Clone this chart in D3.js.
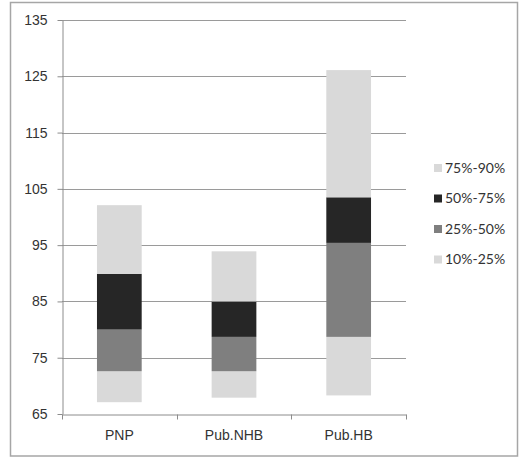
<!DOCTYPE html>
<html>
<head>
<meta charset="utf-8">
<script src="https://cdnjs.cloudflare.com/ajax/libs/d3/7.8.5/d3.min.js"></script>
<style>
  body { margin: 0; background: #fff; }
  svg { display: block; font-family: Lato, "Open Sans", sans-serif; }
</style>
</head>
<body>
<svg id="chart" width="519" height="459"></svg>
<script>
const categories = ["PNP", "Pub.NHB", "Pub.HB"];
const seriesNames = ["10%-25%", "25%-50%", "50%-75%", "75%-90%"];
// boundaries: p10, p25, p50, p75, p90 for each category
const p10 = [67.1, 67.9, 68.3];
const p25 = [72.6, 72.6, 78.7];
const p50 = [80.0, 78.7, 95.4];
const p75 = [89.9, 85.0, 103.5];
const p90 = [102.1, 93.9, 126.1];
const yTicks = [65, 75, 85, 95, 105, 115, 125, 135];
const colors = ["#d9d9d9", "#7f7f7f", "#262626", "#d9d9d9"];

const svg = d3.select("#chart");
const margin = { top: 20, left: 62, right: 113, bottom: 45 };
const innerW = 406 - margin.left;
const innerH = 414 - margin.top;

// outer frame
svg.append("rect")
    .attr("x", 10.5).attr("y", 2.5)
    .attr("width", 507).attr("height", 453.5)
    .attr("fill", "none")
    .attr("stroke", "#a6a6a6")
    .attr("stroke-width", 1.5);

const g = svg.append("g").attr("transform", `translate(${margin.left},${margin.top})`);

const x = d3.scaleBand().domain(categories).range([0, innerW]).padding(0);
const y = d3.scaleLinear().domain([65, 135]).range([innerH, 0]);
const barW = x.bandwidth() * 0.39;

// gridlines
g.selectAll(".grid")
    .data(yTicks.slice(1))
    .enter().append("line")
    .attr("x1", 0).attr("x2", innerW)
    .attr("y1", d => Math.round(y(d)) + 0.5)
    .attr("y2", d => Math.round(y(d)) + 0.5)
    .attr("stroke", "#9a9a9a");

// stacked segments
const bounds = categories.map((c, i) => [p10[i], p25[i], p50[i], p75[i], p90[i]]);
const segs = [];
categories.forEach((c, i) => {
    seriesNames.forEach((s, k) => {
        segs.push({ cat: c, k: k, lo: bounds[i][k], hi: bounds[i][k + 1] });
    });
});
g.selectAll(".seg")
    .data(segs)
    .enter().append("rect")
    .attr("x", d => x(d.cat) + (x.bandwidth() - barW) / 2)
    .attr("width", barW)
    .attr("y", d => y(d.hi))
    .attr("height", d => y(d.lo) - y(d.hi))
    .attr("fill", d => colors[d.k]);

// y axis
const yAxis = g.append("g")
    .attr("transform", "translate(0.5,0)")
    .call(d3.axisLeft(y).tickValues(yTicks).tickSize(5).tickSizeOuter(0).tickPadding(10));
yAxis.select(".domain").attr("stroke", "#8c8c8c");
yAxis.selectAll(".tick line").attr("stroke", "#8c8c8c");
yAxis.selectAll(".tick text")
    .attr("fill", "#333")
    .style("font-size", "14px");

// x axis
const xAxis = g.append("g")
    .attr("transform", `translate(0,${Math.round(innerH) + 0.5})`)
    .call(d3.axisBottom(x).tickSize(0).tickPadding(16));
xAxis.select(".domain").attr("stroke", "#8c8c8c");
xAxis.selectAll(".tick text")
    .attr("fill", "#333")
    .style("font-size", "14px");
// boundary tick marks between categories
const edges = categories.map(c => x(c)).concat([innerW]);
xAxis.selectAll(".edge")
    .data(edges)
    .enter().append("line")
    .attr("x1", d => Math.round(d) + 0.5).attr("x2", d => Math.round(d) + 0.5)
    .attr("y1", 0).attr("y2", 5)
    .attr("stroke", "#8c8c8c");

// legend (top entry = 75%-90%)
const legendItems = seriesNames.map((s, k) => ({ name: s, k: k })).reverse();
const legend = svg.append("g").attr("transform", "translate(434,168)");
const li = legend.selectAll(".li")
    .data(legendItems)
    .enter().append("g")
    .attr("transform", (d, i) => `translate(0,${i * 30.5})`);
li.append("rect")
    .attr("x", 0).attr("y", -4)
    .attr("width", 8).attr("height", 8)
    .attr("fill", d => colors[d.k]);
li.append("text")
    .attr("x", 11).attr("y", 0)
    .attr("dy", "0.35em")
    .attr("fill", "#333")
    .style("font-size", "14px")
    .text(d => d.name);
</script>
</body>
</html>
